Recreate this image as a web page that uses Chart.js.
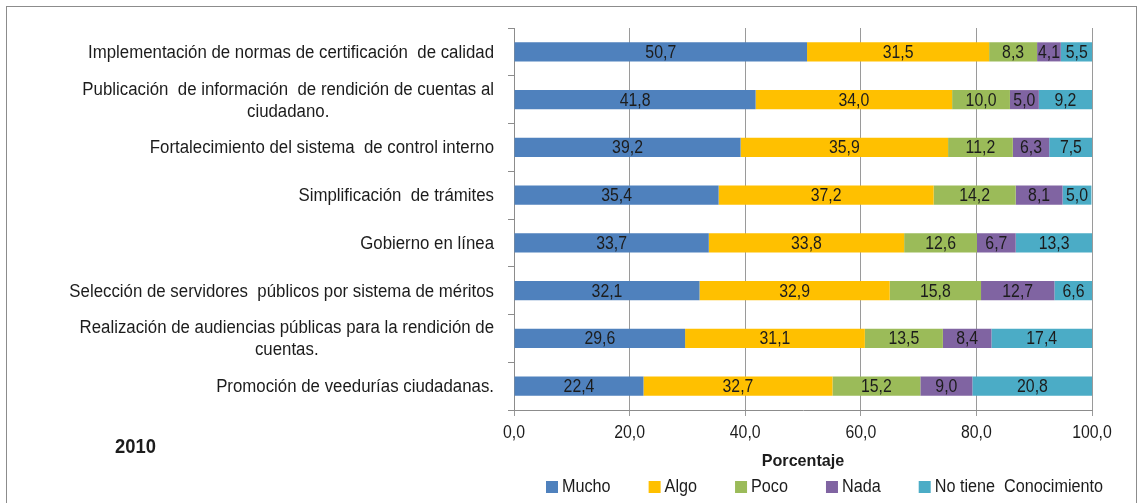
<!DOCTYPE html>
<html><head><meta charset="utf-8">
<script src="https://cdn.jsdelivr.net/npm/chart.js@4.4.1/dist/chart.umd.min.js"></script>
<style>html,body{margin:0;padding:0;background:#fff}#wrap{width:1139px;height:503px;position:relative}</style>
</head><body><div id="wrap"><canvas id="c" width="1139" height="503"></canvas></div>
<script>
const categories = [
  ["Implementación de normas de certificación  de calidad"],
  ["Publicación  de información  de rendición de cuentas al", "ciudadano."],
  ["Fortalecimiento del sistema  de control interno"],
  ["Simplificación  de trámites"],
  ["Gobierno en línea"],
  ["Selección de servidores  públicos por sistema de méritos"],
  ["Realización de audiencias públicas para la rendición de", "cuentas."],
  ["Promoción de veedurías ciudadanas."]
];
const mucho = [50.7, 41.8, 39.2, 35.4, 33.7, 32.1, 29.6, 22.4];
const algo = [31.5, 34.0, 35.9, 37.2, 33.8, 32.9, 31.1, 32.7];
const poco = [8.3, 10.0, 11.2, 14.2, 12.6, 15.8, 13.5, 15.2];
const nada = [4.1, 5.0, 6.3, 8.1, 6.7, 12.7, 8.4, 9.0];
const noTiene = [5.5, 9.2, 7.5, 5.0, 13.3, 6.6, 17.4, 20.8];
const seriesNames = ["Mucho", "Algo", "Poco", "Nada", "No tiene  Conocimiento"];
const xTicks = [0, 20, 40, 60, 80, 100];
const yearLabel = "2010";
const xTitle = "Porcentaje";

const FONT = "'Liberation Sans', Arial, sans-serif";
const TXT = "#1c1c1c";
const colors = ["#4F81BD", "#FFC000", "#9BBB59", "#8064A2", "#4BACC6"];
const fmt = v => v.toFixed(1).replace('.', ',');

// draw horizontally condensed text (the reference uses a narrow face)
function drawText(ctx, text, x, y, align, font, sx) {
  ctx.save();
  ctx.font = font;
  ctx.textBaseline = "middle";
  const w = ctx.measureText(text).width * sx;
  let left = x;
  if (align === "center") left = x - w / 2;
  else if (align === "right") left = x - w;
  ctx.translate(left, y);
  ctx.scale(sx, 1);
  ctx.textAlign = "left";
  ctx.fillText(text, 0, 0);
  ctx.restore();
  return w;
}
function textWidth(ctx, text, font, sx) {
  ctx.save(); ctx.font = font; const w = ctx.measureText(text).width * sx; ctx.restore(); return w;
}

const textPlugin = {
  id: 'texts',
  afterDatasetsDraw(chart) {
    const ctx = chart.ctx;
    ctx.save();
    ctx.fillStyle = TXT;
    // values in bars
    chart.data.datasets.forEach((ds, i) => {
      const meta = chart.getDatasetMeta(i);
      meta.data.forEach((bar, j) => {
        drawText(ctx, fmt(ds.data[j]), (bar.x + bar.base) / 2, bar.y + 1, "center", "18px " + FONT, 0.88);
      });
    });
    // category labels
    const ys = chart.scales.y, xs = chart.scales.x;
    const cf = "18px " + FONT, csx = 0.935;
    categories.forEach((lines, i) => {
      const cy = ys.getPixelForValue(i);
      const lh = 22;
      const w0 = textWidth(ctx, lines[0], cf, csx);
      lines.forEach((ln, k) => {
        const ly = cy + 1 + (k - (lines.length - 1) / 2) * lh;
        if (k === 0) drawText(ctx, ln, 494, ly, "right", cf, csx);
        else drawText(ctx, ln, 494 - w0 / 2, ly, "center", cf, csx);
      });
    });
    // x tick labels
    xTicks.forEach(v => {
      drawText(ctx, fmt(v), xs.getPixelForValue(v), 433, "center", "18px " + FONT, 0.88);
    });
    // axis title
    drawText(ctx, xTitle, (xs.left + xs.right) / 2, 461, "center", "bold 17px " + FONT, 0.95);
    // year
    drawText(ctx, yearLabel, 115, 447, "left", "bold 20px " + FONT, 0.92);
    // legend
    let x = 546;
    const ly = 487;
    chart.data.datasets.forEach((ds, i) => {
      ctx.fillStyle = ds.backgroundColor;
      ctx.fillRect(x, ly - 6, 12, 12);
      ctx.fillStyle = TXT;
      const w = drawText(ctx, ds.label, x + 16, ly, "left", "18px " + FONT, 0.9);
      x += 16 + w + 38;
    });
    // outer frame
    ctx.strokeStyle = "#8c8c8c";
    ctx.lineWidth = 1;
    ctx.strokeRect(6.5, 6.5, 1130, 500);
    ctx.restore();
  }
};

const datasets = [mucho, algo, poco, nada, noTiene].map((d, i) => ({
  label: seriesNames[i],
  data: d,
  backgroundColor: colors[i],
  borderWidth: 0,
  barPercentage: 0.4,
  categoryPercentage: 1.0
}));

new Chart(document.getElementById('c'), {
  type: 'bar',
  data: { labels: categories.map(c => c.join(' ')), datasets },
  plugins: [textPlugin],
  options: {
    indexAxis: 'y',
    responsive: false,
    animation: false,
    layout: { padding: { left: 10, right: 47, top: 28, bottom: 0 } },
    plugins: { tooltip: { enabled: false }, legend: { display: false } },
    scales: {
      x: {
        stacked: true,
        min: 0, max: 100,
        afterBuildTicks(scale) { scale.ticks = xTicks.map(v => ({ value: v })); },
        afterFit(scale) { scale.height = 93; },
        ticks: { display: false },
        grid: { color: "#9a9a9a", lineWidth: 1, tickLength: 6, drawTicks: true },
        border: { color: "#8c8c8c" }
      },
      y: {
        stacked: true,
        afterFit(scale) { scale.width = 504; },
        ticks: { display: false, autoSkip: false },
        grid: { offset: true, drawOnChartArea: false, drawTicks: true, tickLength: 6, color: "#8c8c8c" },
        border: { color: "#8c8c8c" }
      }
    }
  }
});
</script></body></html>
